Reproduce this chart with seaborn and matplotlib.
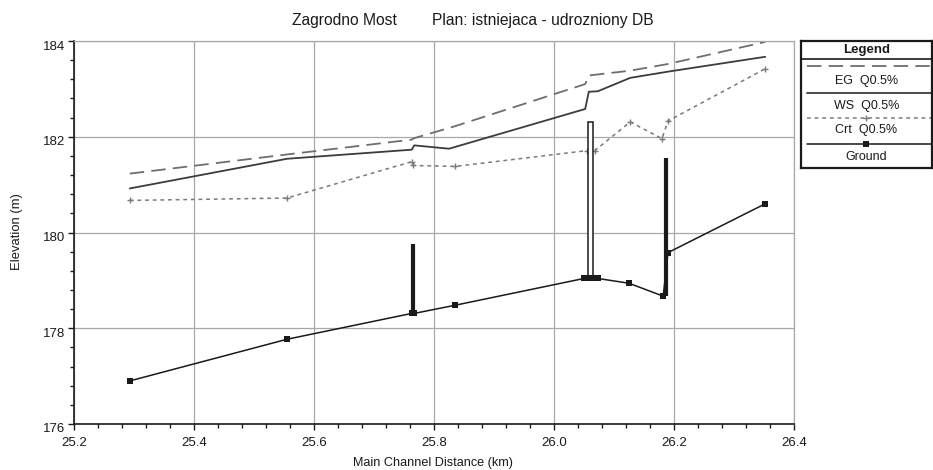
import matplotlib
matplotlib.use("Agg")
import matplotlib.pyplot as plt
from matplotlib.ticker import MultipleLocator, AutoMinorLocator
import matplotlib.transforms as mtransforms
import seaborn as sns
import pandas as pd

# ---- data ----
eg_km = [25.293, 25.555, 25.763, 25.767, 25.835, 26.052, 26.058, 26.127, 26.190, 26.352]
eg_el = [181.23, 181.63, 181.94, 181.97, 182.22, 183.10, 183.28, 183.38, 183.52, 183.98]

ws_km = [25.293, 25.555, 25.763, 25.767, 25.825, 26.052, 26.058, 26.073, 26.127, 26.190, 26.352]
ws_el = [180.92, 181.54, 181.73, 181.82, 181.75, 182.58, 182.94, 182.95, 183.23, 183.36, 183.67]

crt_km = [25.293, 25.555, 25.763, 25.765, 25.835, 26.055, 26.068, 26.127, 26.180, 26.190, 26.352]
crt_el = [180.67, 180.72, 181.48, 181.40, 181.38, 181.71, 181.71, 182.31, 181.96, 182.33, 183.42]

ground_km = [25.293, 25.555, 25.763, 25.767, 25.835, 26.050, 26.058, 26.066, 26.073, 26.125, 26.182, 26.190, 26.352]
ground_el = [176.90, 177.77, 178.31, 178.31, 178.48, 179.04, 179.04, 179.04, 179.04, 178.94, 178.67, 179.58, 180.60]

# bridge / culvert structures
pier_km = [25.765, 26.187]
pier_bottom = [178.31, 178.67]
pier_top = [179.75, 181.55]
box_km = [26.061]
box_width = [0.008]
box_bottom = [179.04]
box_top = [182.30]

legend_labels = ["EG  Q0.5%", "WS  Q0.5%", "Crt  Q0.5%", "Ground"]

sns.set_theme(style="white")
plt.rcParams["font.family"] = ["Liberation Sans", "DejaVu Sans"]

fig = plt.figure(figsize=(9.33, 4.70), dpi=100)
W, H = 933, 470
ax = fig.add_axes([74 / W, 1 - 424 / H, (794 - 74) / W, (424 - 41) / H])

eg_df = pd.DataFrame({"km": eg_km, "el": eg_el})
ws_df = pd.DataFrame({"km": ws_km, "el": ws_el})
crt_df = pd.DataFrame({"km": crt_km, "el": crt_el})
gr_df = pd.DataFrame({"km": ground_km, "el": ground_el})

eg_style = dict(color="#6e6e6e", lw=1.3, dashes=(8, 4))
ws_style = dict(color="#3c3c3c", lw=1.3)
crt_style = dict(color="#7a7a7a", lw=1.1, dashes=(2.5, 2.5))
gr_style = dict(color="#1a1a1a", lw=1.1)

# structures
ax.vlines(pier_km, pier_bottom, pier_top, color="#1a1a1a", lw=3, zorder=3)
ax.bar(box_km, [t - b for t, b in zip(box_top, box_bottom)], bottom=box_bottom,
       width=box_width, facecolor="white", edgecolor="#1a1a1a", lw=1.1, zorder=3)

sns.lineplot(data=eg_df, x="km", y="el", ax=ax, sort=False, estimator=None, color=eg_style["color"], lw=eg_style["lw"])
ax.lines[-1].set_dashes(eg_style["dashes"])
sns.lineplot(data=ws_df, x="km", y="el", ax=ax, sort=False, estimator=None, color=ws_style["color"], lw=ws_style["lw"])
sns.lineplot(data=crt_df, x="km", y="el", ax=ax, sort=False, estimator=None, color=crt_style["color"], lw=crt_style["lw"],
             marker="+", markersize=5, markeredgewidth=1.0, markeredgecolor=crt_style["color"])
ax.lines[-1].set_dashes(crt_style["dashes"])
sns.lineplot(data=gr_df, x="km", y="el", ax=ax, sort=False, estimator=None, color=gr_style["color"], lw=gr_style["lw"],
             marker="s", markersize=4.5, markeredgewidth=0, zorder=4)

ax.set_xlim(25.2, 26.4)
ax.set_ylim(176, 184)
ax.xaxis.set_major_locator(MultipleLocator(0.2))
ax.yaxis.set_major_locator(MultipleLocator(2))
ax.xaxis.set_minor_locator(AutoMinorLocator(5))
ax.yaxis.set_minor_locator(AutoMinorLocator(5))
ax.xaxis.set_major_formatter(plt.FuncFormatter(lambda v, p: f"{v:.1f}"))
ax.yaxis.set_major_formatter(plt.FuncFormatter(lambda v, p: f"{v:.0f}"))
ax.tick_params(which="both", direction="out", colors="#1a1a1a", labelsize=9.5)
ax.tick_params(axis="x", pad=5)
ax.tick_params(axis="y", pad=2)
ax.tick_params(which="major", length=4, width=1.0)
ax.tick_params(which="minor", length=3, width=1.0)
ax.tick_params(axis="x", bottom=True, which="both")
ax.tick_params(axis="y", left=True, which="both")
ax.grid(True, which="major", color="#a8a8a8", lw=0.9)
for s in ["top", "right"]:
    ax.spines[s].set_color("#a8a8a8")
    ax.spines[s].set_linewidth(0.9)
for s in ["left", "bottom"]:
    ax.spines[s].set_color("#1a1a1a")
    ax.spines[s].set_linewidth(1.2)
fig.canvas.draw()
shift = mtransforms.ScaledTranslation(0, -4 / 100, fig.dpi_scale_trans)
for lab in ax.get_yticklabels():
    lab.set_transform(lab.get_transform() + shift)

ax.set_xlabel("")
ax.set_ylabel("")
fig.text(292 / W, 1 - 20 / H, "Zagrodno Most", ha="left", va="center", fontsize=11.25, color="#1a1a1a")
fig.text(432 / W, 1 - 20 / H, "Plan: istniejaca - udrozniony DB", ha="left", va="center",
         fontsize=11.25, color="#1a1a1a")
fig.text(433 / W, 1 - 463 / H, "Main Channel Distance (km)", ha="center", va="center",
         fontsize=9.1, color="#1a1a1a")
fig.text(17 / W, 1 - 232 / H, "Elevation (m)", ha="center", va="center", rotation=90,
         fontsize=9.4, color="#1a1a1a")

# ---- custom legend box ----
lx0, lx1, ly0, ly1 = 801, 932, 41, 168
lax = fig.add_axes([lx0 / W, 1 - ly1 / H, (lx1 - lx0) / W, (ly1 - ly0) / H])
lax.set_xlim(lx0, lx1)
lax.set_ylim(ly1, ly0)
lax.set_xticks([])
lax.set_yticks([])
for s in lax.spines.values():
    s.set_color("#1a1a1a")
    s.set_linewidth(1.6)
lax.axhline(59, color="#1a1a1a", lw=1.2)
lax.text((lx0 + lx1) / 2, 50, "Legend", ha="center", va="center", fontsize=9.5, fontweight="bold", color="#1a1a1a")
sample_y = [66, 93, 118, 144]
text_y = [81, 106, 130, 157]
styles = [eg_style, ws_style, crt_style, gr_style]
for i, (lab, st) in enumerate(zip(legend_labels, styles)):
    ln, = lax.plot([lx0 + 6, lx1], [sample_y[i], sample_y[i]], color=st["color"], lw=st["lw"])
    if "dashes" in st:
        ln.set_dashes(st["dashes"])
    if i == 2:
        lax.plot([(lx0 + lx1) / 2], [sample_y[i]], marker="+", ms=5, color=st["color"])
    if i == 3:
        lax.plot([(lx0 + lx1) / 2], [sample_y[i]], marker="s", ms=4.5, color=st["color"], mew=0)
    lax.text((lx0 + lx1) / 2, text_y[i], lab, ha="center", va="center", fontsize=9, color="#1a1a1a")

fig.savefig("out.png", dpi=100)
